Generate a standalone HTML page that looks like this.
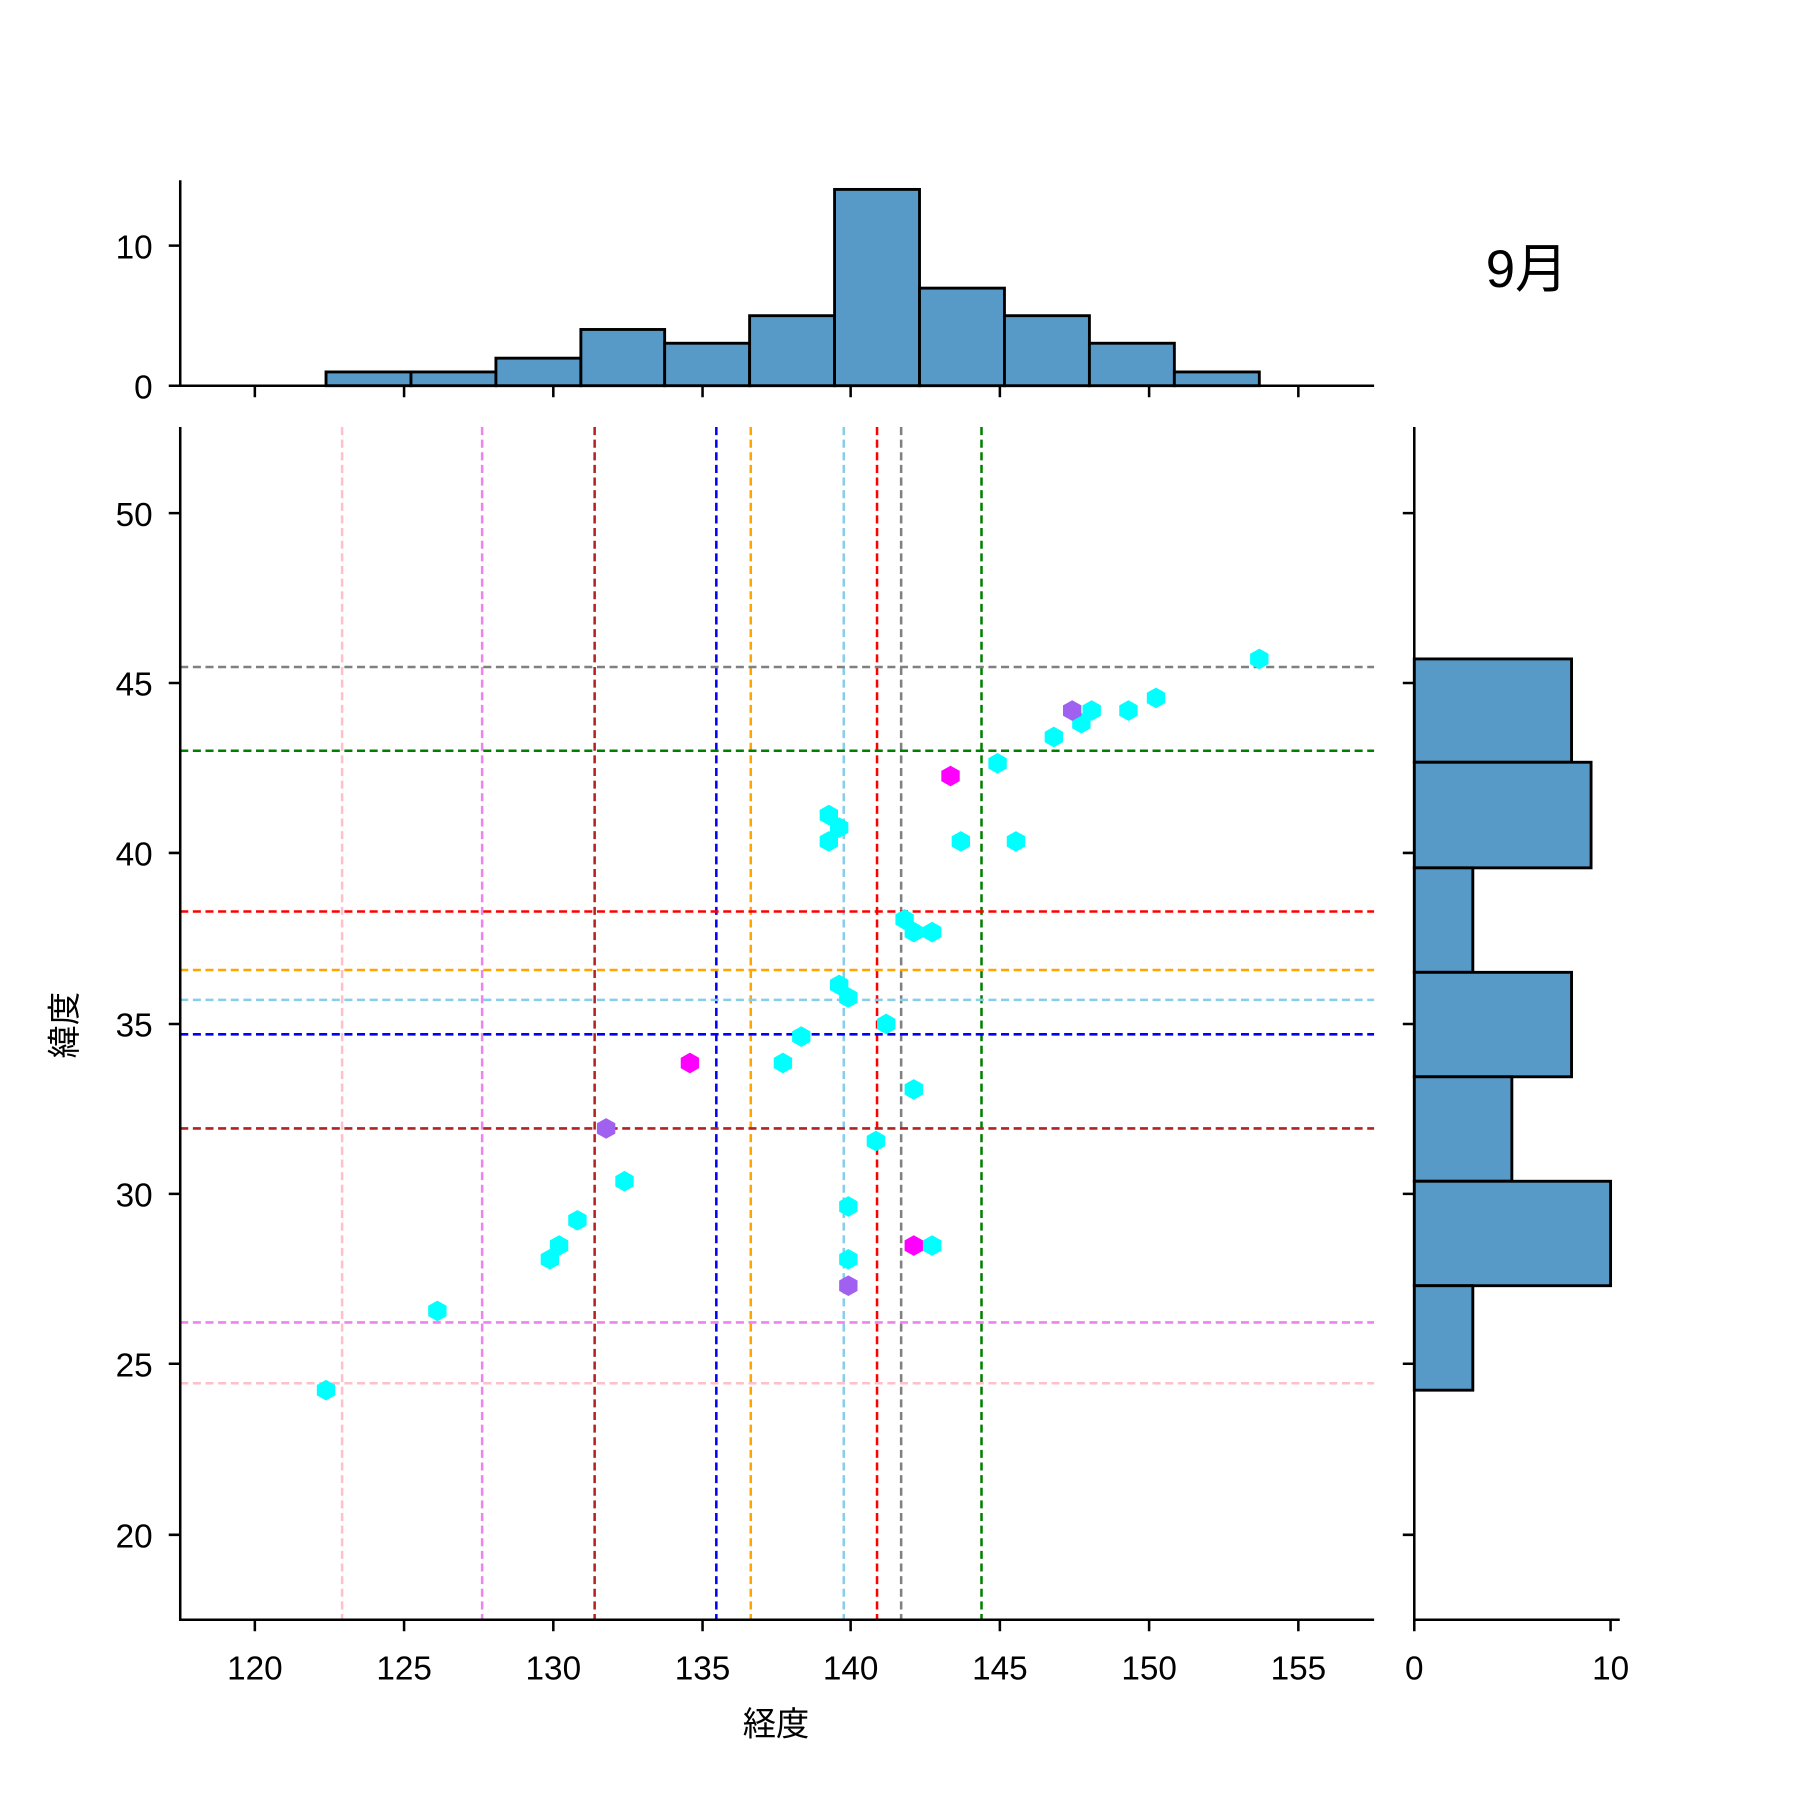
<!DOCTYPE html><html><head><meta charset="utf-8"><style>body{margin:0;background:#fff}svg{display:block}text{font-family:"Liberation Sans","Noto Sans CJK JP",sans-serif;fill:#000}</style></head><body>
<svg width="1800" height="1800" viewBox="0 0 1568 1568" xmlns="http://www.w3.org/2000/svg">
<defs><polygon id="h" points="0,-9 8,-4.5 8,4.5 0,9 -8,4.5 -8,-4.5"/></defs>
<g fill="#5799c7" stroke="#000" stroke-width="2.5">
<rect x="284" y="324" width="74" height="12"/><rect x="358" y="324" width="74" height="12"/><rect x="432" y="312" width="74" height="24"/><rect x="506" y="287" width="73" height="49"/><rect x="579" y="299" width="74" height="37"/><rect x="653" y="275" width="74" height="61"/><rect x="727" y="165" width="74" height="171"/><rect x="801" y="251" width="74" height="85"/><rect x="875" y="275" width="74" height="61"/><rect x="949" y="299" width="74" height="37"/><rect x="1023" y="324" width="74" height="12"/>
<rect x="1232" y="574" width="137" height="90"/><rect x="1232" y="664" width="154" height="92"/><rect x="1232" y="756" width="51" height="91"/><rect x="1232" y="847" width="137" height="91"/><rect x="1232" y="938" width="85" height="91"/><rect x="1232" y="1029" width="171" height="91"/><rect x="1232" y="1120" width="51" height="91"/>
</g>
<g stroke-width="2.2" stroke-dasharray="7,4" fill="none">
<line x1="298" y1="372" x2="298" y2="1411" stroke="#ffc0cb"/><line x1="420" y1="372" x2="420" y2="1411" stroke="#ee82ee"/><line x1="518" y1="372" x2="518" y2="1411" stroke="#b22222"/><line x1="624" y1="372" x2="624" y2="1411" stroke="#0000ff"/><line x1="654" y1="372" x2="654" y2="1411" stroke="#ffa500"/><line x1="735" y1="372" x2="735" y2="1411" stroke="#87ceeb"/><line x1="764" y1="372" x2="764" y2="1411" stroke="#ff0000"/><line x1="785" y1="372" x2="785" y2="1411" stroke="#808080"/><line x1="855" y1="372" x2="855" y2="1411" stroke="#008000"/>
<line x1="157" y1="581" x2="1197" y2="581" stroke="#808080"/><line x1="157" y1="654" x2="1197" y2="654" stroke="#008000"/><line x1="157" y1="794" x2="1197" y2="794" stroke="#ff0000"/><line x1="157" y1="845" x2="1197" y2="845" stroke="#ffa500"/><line x1="157" y1="871" x2="1197" y2="871" stroke="#87ceeb"/><line x1="157" y1="901" x2="1197" y2="901" stroke="#0000ff"/><line x1="157" y1="983" x2="1197" y2="983" stroke="#b22222"/><line x1="157" y1="1152" x2="1197" y2="1152" stroke="#ee82ee"/><line x1="157" y1="1205" x2="1197" y2="1205" stroke="#ffc0cb"/>
</g>
<g fill="#00ffff">
<use href="#h" x="1097" y="574"/><use href="#h" x="1007" y="608"/><use href="#h" x="983" y="619"/><use href="#h" x="951" y="619"/><use href="#h" x="942" y="630"/><use href="#h" x="918" y="642"/><use href="#h" x="869" y="665"/><use href="#h" x="837" y="733"/><use href="#h" x="885" y="733"/><use href="#h" x="722" y="710"/><use href="#h" x="731" y="721"/><use href="#h" x="722" y="733"/><use href="#h" x="788" y="801"/><use href="#h" x="796" y="812"/><use href="#h" x="812" y="812"/><use href="#h" x="731" y="858"/><use href="#h" x="739" y="869"/><use href="#h" x="772" y="892"/><use href="#h" x="698" y="903"/><use href="#h" x="682" y="926"/><use href="#h" x="796" y="949"/><use href="#h" x="763" y="994"/><use href="#h" x="544" y="1029"/><use href="#h" x="503" y="1063"/><use href="#h" x="487" y="1085"/><use href="#h" x="479" y="1097"/><use href="#h" x="739" y="1051"/><use href="#h" x="812" y="1085"/><use href="#h" x="739" y="1097"/><use href="#h" x="381" y="1142"/><use href="#h" x="284" y="1211"/>
</g>
<g fill="#ff00ff"><use href="#h" x="828" y="676"/><use href="#h" x="601" y="926"/><use href="#h" x="796" y="1085"/></g>
<g fill="#a060f0"><use href="#h" x="934" y="619"/><use href="#h" x="528" y="983"/><use href="#h" x="739" y="1120"/></g>
<g stroke="#000" stroke-width="2.2" fill="none">
<path d="M157 157V336H1197"/><path d="M157 372V1411H1197"/><path d="M1232 372V1411H1411"/>
<path d="M147 336H157M147 214H157"/>
<path d="M222 336v10M352 336v10M482 336v10M612 336v10M741 336v10M871 336v10M1001 336v10M1131 336v10"/>
<path d="M222 1411v10M352 1411v10M482 1411v10M612 1411v10M741 1411v10M871 1411v10M1001 1411v10M1131 1411v10"/>
<path d="M147 447h10M147 595h10M147 743h10M147 892h10M147 1040h10M147 1188h10M147 1337h10"/>
<path d="M1222 447h10M1222 595h10M1222 743h10M1222 892h10M1222 1040h10M1222 1188h10M1222 1337h10"/>
<path d="M1232 1411v10M1403 1411v10"/>
</g>
<g font-size="29" text-anchor="end">
<text x="133" y="347">0</text><text x="133" y="225">10</text>
<text x="133" y="458">50</text><text x="133" y="606">45</text><text x="133" y="754">40</text><text x="133" y="903">35</text><text x="133" y="1051">30</text><text x="133" y="1199">25</text><text x="133" y="1348">20</text>
</g>
<g font-size="29" text-anchor="middle">
<text x="222" y="1463">120</text><text x="352" y="1463">125</text><text x="482" y="1463">130</text><text x="612" y="1463">135</text><text x="741" y="1463">140</text><text x="871" y="1463">145</text><text x="1001" y="1463">150</text><text x="1131" y="1463">155</text>
<text x="1232" y="1463">0</text><text x="1403" y="1463">10</text>
<text x="676" y="1512">経度</text>
<text transform="translate(66,893) rotate(-90)">緯度</text>
<text x="1330" y="250" font-size="46">9月</text>
</g>
</svg></body></html>
